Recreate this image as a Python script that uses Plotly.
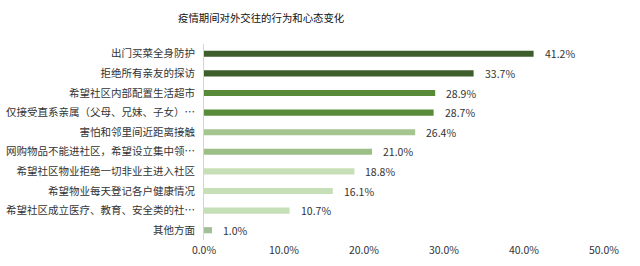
import plotly.graph_objects as go

categories = [
    "出门买菜全身防护",
    "拒绝所有亲友的探访",
    "希望社区内部配置生活超市",
    "仅接受直系亲属（父母、兄妹、子女）…",
    "害怕和邻里间近距离接触",
    "网购物品不能进社区，希望设立集中领…",
    "希望社区物业拒绝一切非业主进入社区",
    "希望物业每天登记各户健康情况",
    "希望社区成立医疗、教育、安全类的社…",
    "其他方面",
]
values = [41.2, 33.7, 28.9, 28.7, 26.4, 21.0, 18.8, 16.1, 10.7, 1.0]
bar_colors = ["#3d5e2a", "#3d5e2a", "#598a3a", "#598a3a", "#a4c58f",
              "#9dbf87", "#c7dfb6", "#c7dfb6", "#c7dfb6", "#a3bf97"]
tick_vals = [0, 10, 20, 30, 40, 50]
tick_text = ["0.0%", "10.0%", "20.0%", "30.0%", "40.0%", "50.0%"]
title_text = "疫情期间对外交往的行为和心态变化"

FONT = "Noto Sans CJK SC"
L, R = 203.5, 36
PLOT_W = 640 - L - R

fig = go.Figure(go.Bar(
    x=values, y=categories, orientation="h",
    marker=dict(color=bar_colors, line=dict(width=0)),
    width=0.31, hoverinfo="skip",
))

annotations = [
    dict(x=v, y=c, xref="x", yref="y", text=f"{v:.1f}%", showarrow=False,
         xanchor="left", yanchor="middle", xshift=9,
         font=dict(family=FONT, size=10.5, color="#333333"))
    for v, c in zip(values, categories)
]
annotations.append(dict(
    x=(260.5 - L) / PLOT_W, y=1, xref="paper", yref="paper", yanchor="middle",
    xanchor="center", yshift=27, text=title_text, showarrow=False,
    font=dict(family=FONT, size=10.4, color="#111111"),
))

fig.update_layout(
    width=640, height=266,
    margin=dict(l=L, r=R, t=44, b=26, pad=0),
    paper_bgcolor="white", plot_bgcolor="white",
    showlegend=False,
    annotations=annotations,
    xaxis=dict(range=[0, 50], tickvals=tick_vals, ticktext=tick_text,
               showgrid=False, zeroline=False, showline=False, ticks="",
               automargin=False, ticklabelstandoff=2,
               tickfont=dict(family=FONT, size=10.5, color="#333333"),
               fixedrange=True),
    yaxis=dict(autorange="reversed", showgrid=False, zeroline=False,
               showline=True, linecolor="#d4d4d4", linewidth=1, ticks="",
               ticklabelstandoff=6, automargin=False,
               tickfont=dict(family=FONT, size=10.5, color="#333333"),
               fixedrange=True),
)

fig.write_html("out.html")
